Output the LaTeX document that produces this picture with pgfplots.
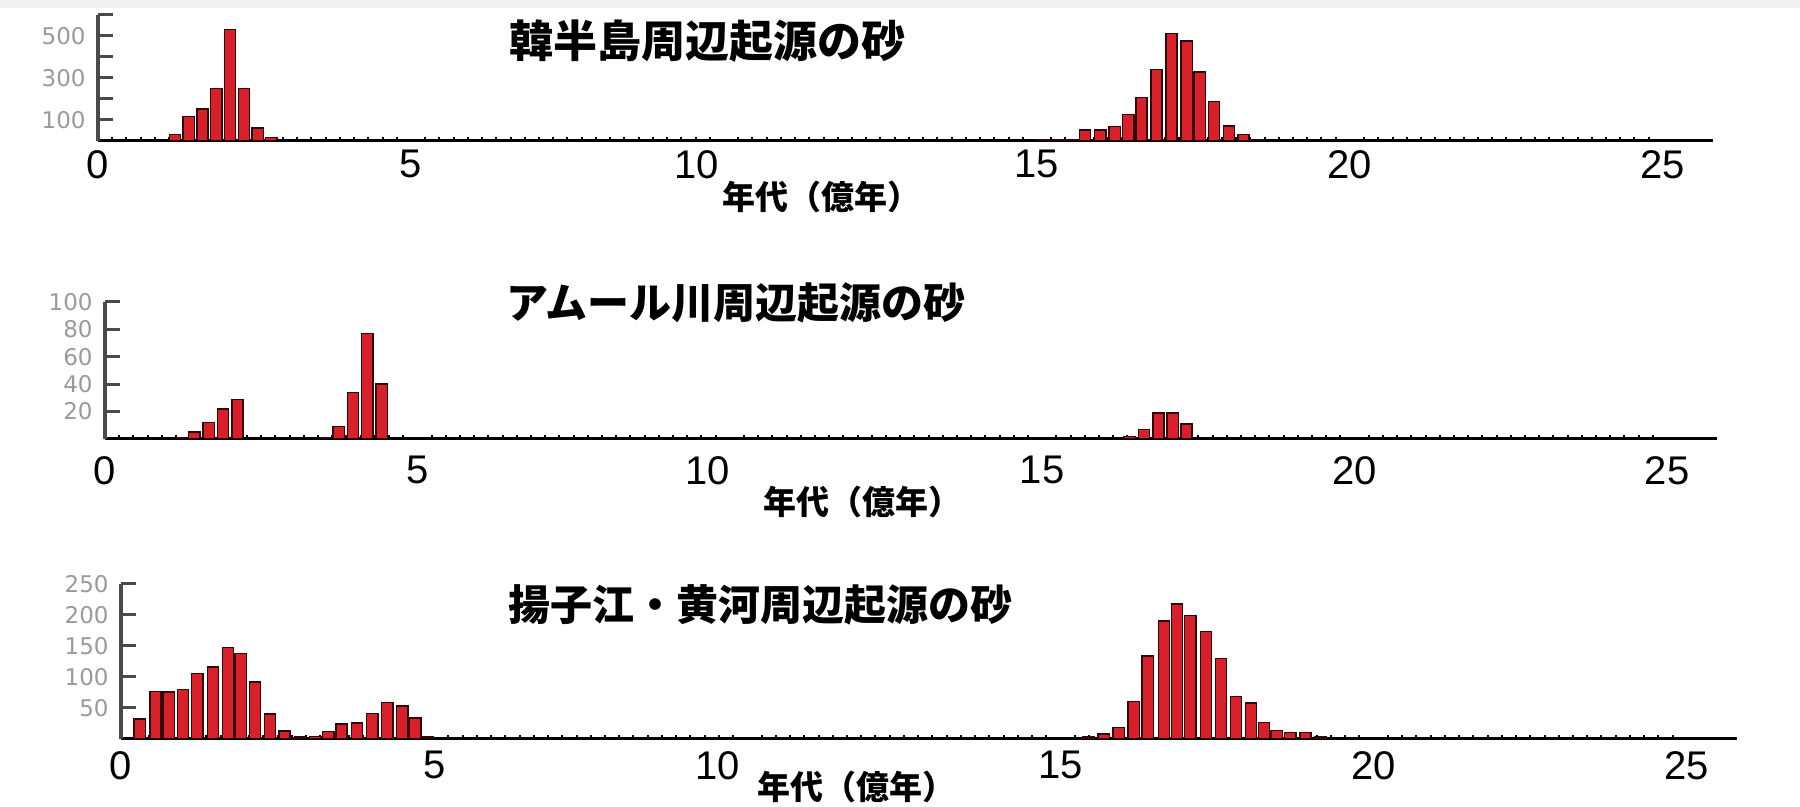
\documentclass[border=0pt]{standalone}
\usepackage{fontspec}
\setmainfont{Liberation Sans}
\newfontfamily\cjk{Noto Sans CJK JP}
\newfontfamily\ytickfont{DejaVu Sans}
\usepackage{pgfplots}
\pgfplotsset{compat=1.18}

\definecolor{barred}{HTML}{D8202A}
\definecolor{baredge}{HTML}{2E0808}
\definecolor{ylabgray}{HTML}{9A9A9A}
\definecolor{yaxisgray}{HTML}{4A4A4A}

\pgfplotsset{
  panel/.style={
    scale only axis,
    anchor=south west,
    xmin=0, xmax=25.8, ymin=0,
    axis lines*=left,
    x axis line style={line width=1.5pt, black},
    y axis line style={line width=1.8pt, yaxisgray},
    tick align=inside,
    major tick length=7.5pt,
    minor tick length=2pt,
    xtick={0,5,10,15,20,25},
    xticklabels={0,5,,15,20,25},
    extra x ticks={10},
    extra x tick labels={10},
    minor x tick num=21,
    major x tick style={draw=none},
    minor x tick style={line width=1pt, black},
    y tick style={line width=1.5pt, yaxisgray},
    xticklabel style={font=\fontsize{20}{20}\selectfont, anchor=north, inner sep=0pt},
    yticklabel style={font=\ytickfont\fontsize{11.5}{11.5}\selectfont, text=ylabgray, anchor=east, inner sep=0pt, xshift=-6pt},
  },
  bars/.style={ybar, bar width=0.18, fill=barred, draw=baredge, line width=0.7pt},
}

\begin{document}
\begin{tikzpicture}
\useasboundingbox (0,0) rectangle (900pt,403.5pt);
\fill[black!6] (0,399.5pt) rectangle (900pt,403.5pt);

% Korean peninsula
\begin{axis}[panel,
  at={(49pt,333pt)}, width=807.5pt, height=63pt,
  ymax=600, ytick={100,200,300,400,500,600},
  yticklabels={100,,300,,500,},
  xticklabel style={yshift=-4.5pt},
  extra x tick style={xticklabel style={xshift=-13.5pt}},
]
\addplot[bars] coordinates {
  (1.23,30) (1.45,117) (1.67,153) (1.89,250) (2.11,530) (2.33,250) (2.55,62) (2.77,18)
  (15.10,4) (15.37,8) (15.55,8) (15.77,52) (16.01,52) (16.24,70) (16.46,126)
  (16.67,208) (16.91,339) (17.15,512) (17.39,476) (17.60,328) (17.83,189)
  (18.07,71) (18.30,32) (18.54,6)
};
\end{axis}

% Amur river
\begin{axis}[panel,
  at={(52.5pt,184pt)}, width=806pt, height=68.5pt,
  ymax=100, ytick={20,40,60,80,100},
  yticklabels={20,40,60,80,100},
  xticklabel style={yshift=-8.5pt},
  extra x tick style={xticklabel style={xshift=-11pt}},
]
\addplot[bars] coordinates {
  (1.20,1) (1.43,5) (1.66,12) (1.89,22) (2.12,29)
  (3.51,1) (3.74,9) (3.97,34) (4.20,77) (4.43,40)
  (16.40,2) (16.63,7) (16.86,19) (17.09,19) (17.31,11)
};
\end{axis}

% Yangtze / Yellow river
\begin{axis}[panel,
  at={(60.5pt,34pt)}, width=808pt, height=77.5pt,
  ymax=250, ytick={50,100,150,200,250},
  yticklabels={50,100,150,200,250},
  xticklabel style={yshift=-6pt},
  extra x tick style={xticklabel style={xshift=-15pt}},
]
\addplot[bars] coordinates {
  (0.30,32) (0.55,77) (0.76,76) (0.99,80) (1.22,106) (1.47,116) (1.71,148)
  (1.91,138) (2.14,92) (2.38,40) (2.61,13) (2.86,3) (3.10,4) (3.31,12)
  (3.52,24) (3.77,26) (4.01,41) (4.25,59) (4.49,53) (4.70,34) (4.89,3)
  (15.45,3) (15.69,8) (15.93,19) (16.17,60) (16.39,134) (16.65,190) (16.86,218)
  (17.07,199) (17.32,173) (17.56,130) (17.80,69) (18.04,58) (18.25,27)
  (18.45,14) (18.67,10) (18.91,10) (19.15,3)
};
\end{axis}

\node[font=\cjk\bfseries\fontsize{22}{22}\selectfont] at (353.5pt,383pt) {韓半島周辺起源の砂};
\node[font=\cjk\bfseries\fontsize{21}{21}\selectfont] at (368pt,252pt) {アムール川周辺起源の砂};
\node[font=\cjk\bfseries\fontsize{21}{21}\selectfont] at (380pt,101pt) {揚子江・黄河周辺起源の砂};

\node[font=\cjk\bfseries\fontsize{16.5}{16.5}\selectfont] at (410.5pt,305pt) {年代（億年）};
\node[font=\cjk\bfseries\fontsize{16.5}{16.5}\selectfont] at (431pt,152.5pt) {年代（億年）};
\node[font=\cjk\bfseries\fontsize{16.5}{16.5}\selectfont] at (428pt,10pt) {年代（億年）};
\end{tikzpicture}
\end{document}
